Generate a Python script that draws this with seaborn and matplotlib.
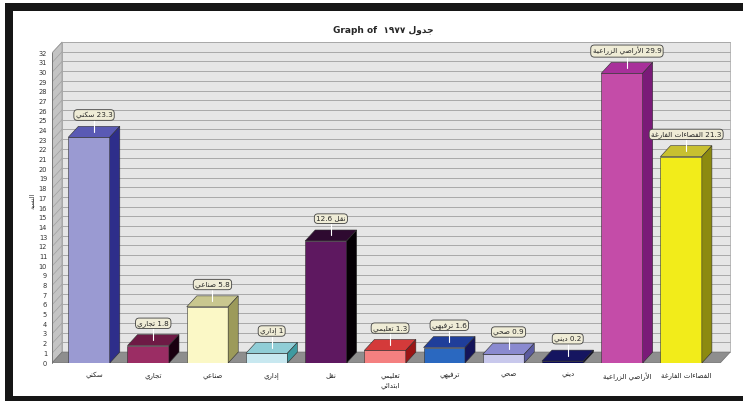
import matplotlib
matplotlib.use("Agg")
import matplotlib.pyplot as plt
import seaborn as sns
from matplotlib.patches import Polygon, Rectangle

# البيانات - استعمالات الارض 1977
categories = ["سكني", "تجاري", "صناعي", "إداري", "نقل", "تعليمي\nابتدائي",
              "ترفيهي", "صحي", "ديني", "الأراضي الزراعية", "الفضاءات الفارغة"]
values = [23.3, 1.8, 5.8, 1, 12.6, 1.3, 1.6, 0.9, 0.2, 29.9, 21.3]
value_labels = ["23.3", "1.8", "5.8", "1", "12.6", "1.3", "1.6", "0.9", "0.2", "29.9", "21.3"]
y_ticks = list(range(0, 33))

front_colors = ["#9a9ad2", "#9b2d64", "#fbf8c6", "#c8e8f0", "#5e1860", "#f48080",
                "#2a68c0", "#c8c8ec", "#0a0a5a", "#c44ca8", "#f2ec1a"]
top_colors = ["#5a5ab4", "#6e1a45", "#c9c78f", "#90cdd6", "#2e0a30", "#d43a3a",
              "#1f3e9a", "#8a8ad0", "#151560", "#a8309a", "#c8c030"]
side_colors = ["#2e2e8a", "#1a0010", "#9c9a5a", "#3e9aa0", "#050005", "#9a1515",
               "#14145a", "#5a5aa0", "#000020", "#7a1a78", "#8c8a10"]

# تشكيل الحروف العربية (matplotlib لا يربط الحروف)
ARABIC = {'ء': (0xFE80, 1), 'آ': (0xFE81, 2), 'أ': (0xFE83, 2), 'إ': (0xFE87, 2),
          'ئ': (0xFE89, 4), 'ا': (0xFE8D, 2), 'ب': (0xFE8F, 4), 'ة': (0xFE93, 2),
          'ت': (0xFE95, 4), 'ج': (0xFE9D, 4), 'ح': (0xFEA1, 4), 'د': (0xFEA9, 2),
          'ر': (0xFEAD, 2), 'ز': (0xFEAF, 2), 'س': (0xFEB1, 4), 'ص': (0xFEB9, 4),
          'ض': (0xFEBD, 4), 'ع': (0xFEC9, 4), 'غ': (0xFECD, 4), 'ف': (0xFED1, 4),
          'ق': (0xFED5, 4), 'ك': (0xFED9, 4), 'ل': (0xFEDD, 4), 'م': (0xFEE1, 4),
          'ن': (0xFEE5, 4), 'ه': (0xFEE9, 4), 'و': (0xFEED, 2), 'ي': (0xFEF1, 4)}
LAM_ALEF = {'آ': 0xFEF5, 'أ': 0xFEF7, 'إ': 0xFEF9, 'ا': 0xFEFB}


def shape(text):
    lines = []
    for line in text.split("\n"):
        out = []
        prev_joins = False
        i = 0
        while i < len(line):
            c = line[i]
            if c not in ARABIC:
                out.append(c)
                prev_joins = False
                i += 1
                continue
            if c == 'ل' and i + 1 < len(line) and line[i + 1] in LAM_ALEF:
                out.append(chr(LAM_ALEF[line[i + 1]] + (1 if prev_joins else 0)))
                prev_joins = False
                i += 2
                continue
            base, kind = ARABIC[c]
            nxt = line[i + 1] if i + 1 < len(line) else None
            next_joins = kind == 4 and nxt in ARABIC and ARABIC[nxt][1] > 1
            if prev_joins and next_joins:
                form = 3
            elif prev_joins:
                form = 1
            elif next_joins:
                form = 2
            else:
                form = 0
            out.append(chr(base + form))
            prev_joins = next_joins
            i += 1
        lines.append("".join(out)[::-1])
    return "\n".join(lines)


sns.set_style("white")
plt.rcParams['font.family'] = ['DejaVu Sans']

fig = plt.figure(figsize=(7.43, 4.01), dpi=100)
ax = fig.add_axes([52 / 743, 1 - 363 / 401, (735 - 52) / 743, (363 - 38) / 401])

# profundidade 3D
dx, dy = 0.17, 1.13
xl, xr = -0.625, 10.83
ytop = 32 + dy

# paredes e chão
ax.add_patch(Polygon([(xl + dx, dy), (xr, dy), (xr, ytop), (xl + dx, ytop)],
                     closed=True, fc="#e6e6e6", ec="#b0b0b0", lw=0.6, zorder=0))
ax.add_patch(Polygon([(xl, 0), (xl + dx, dy), (xl + dx, ytop), (xl, 32)],
                     closed=True, fc="#c4c4c4", ec="#909090", lw=0.5, zorder=0))
for t in y_ticks[1:]:
    ax.plot([xl + dx, xr], [t + dy, t + dy], color="#a9a9a9", lw=0.7, zorder=1)
    ax.plot([xl, xl + dx], [t, t + dy], color="#a0a0a0", lw=0.5, zorder=1)
ax.add_patch(Polygon([(xl, 0), (xl + dx, dy), (xr, dy), (xr - dx, 0)],
                     closed=True, fc="#8e8e8e", ec="#707070", lw=0.5, zorder=1))

# barras (face frontal)
w = 0.7
sns.barplot(x=list(range(len(values))), y=values, hue=list(range(len(values))),
            palette=front_colors, legend=False, width=w, ax=ax,
            edgecolor="#303030", linewidth=0.4, saturation=1, zorder=3)

for i, v in enumerate(values):
    x0, x1 = i - w / 2, i + w / 2
    ax.add_patch(Polygon([(x0, v), (x0 + dx, v + dy), (x1 + dx, v + dy), (x1, v)],
                         closed=True, fc=top_colors[i], ec="#303030", lw=0.4, zorder=3))
    ax.add_patch(Polygon([(x1, 0), (x1 + dx, dy), (x1 + dx, v + dy), (x1, v)],
                         closed=True, fc=side_colors[i], ec="#303030", lw=0.4, zorder=3))
    cx = i + dx / 2
    ax.plot([cx, cx], [v + dy / 2, v + 2.3], color="white", lw=0.8, zorder=4)
    name = categories[i].split("\n")[0]
    if i == 4:
        txt = value_labels[i] + " " + shape(name)
    else:
        txt = shape(name) + " " + value_labels[i]
    ax.text(cx, v + 2.3, txt, ha="center", va="center", fontsize=5.2, zorder=5,
            bbox=dict(boxstyle="round,pad=0.25,rounding_size=0.5",
                      fc="#efecd6", ec="#404040", lw=0.6))

ax.set_xlim(xl, xr + 0.08)
ax.set_ylim(0, 33.55)
ax.set_yticks(y_ticks)
ax.set_yticklabels([str(t) for t in y_ticks], fontsize=4.8, color="#333333")
ax.set_xticks([i + dx / 2 for i in range(len(categories))])
ax.set_xticklabels([shape(c) for c in categories], fontsize=5, linespacing=1.6)
ax.tick_params(axis="y", length=2.5, width=0.5, pad=1, colors="#555555", labelcolor="#333333")
ax.tick_params(axis="x", length=2.5, width=0.5, pad=4, colors="#555555", labelcolor="#222222")
for s in ["top", "right", "bottom"]:
    ax.spines[s].set_visible(False)
ax.spines["left"].set_bounds(0, 32)
ax.spines["left"].set_color("#707070")
ax.spines["left"].set_linewidth(0.6)
ax.set_xlabel("")
ax.set_ylabel(shape("النسبة"), fontsize=4.5, labelpad=3)

# titulo
fig.text(383 / 743, 1 - 30 / 401, "Graph of  ١٩٧٧ " + shape("جدول"),
         ha="center", va="center", fontsize=6.5, fontweight="bold")

# moldura preta
for (x, y, ww, hh) in [(5, 3, 738, 8), (5, 3, 8, 398), (5, 396, 738, 5)]:
    fig.patches.append(Rectangle((x / 743, 1 - (y + hh) / 401), ww / 743, hh / 401,
                                 transform=fig.transFigure, fc="#161616", ec="none"))

plt.savefig("out.png", dpi=100)
plt.close()
